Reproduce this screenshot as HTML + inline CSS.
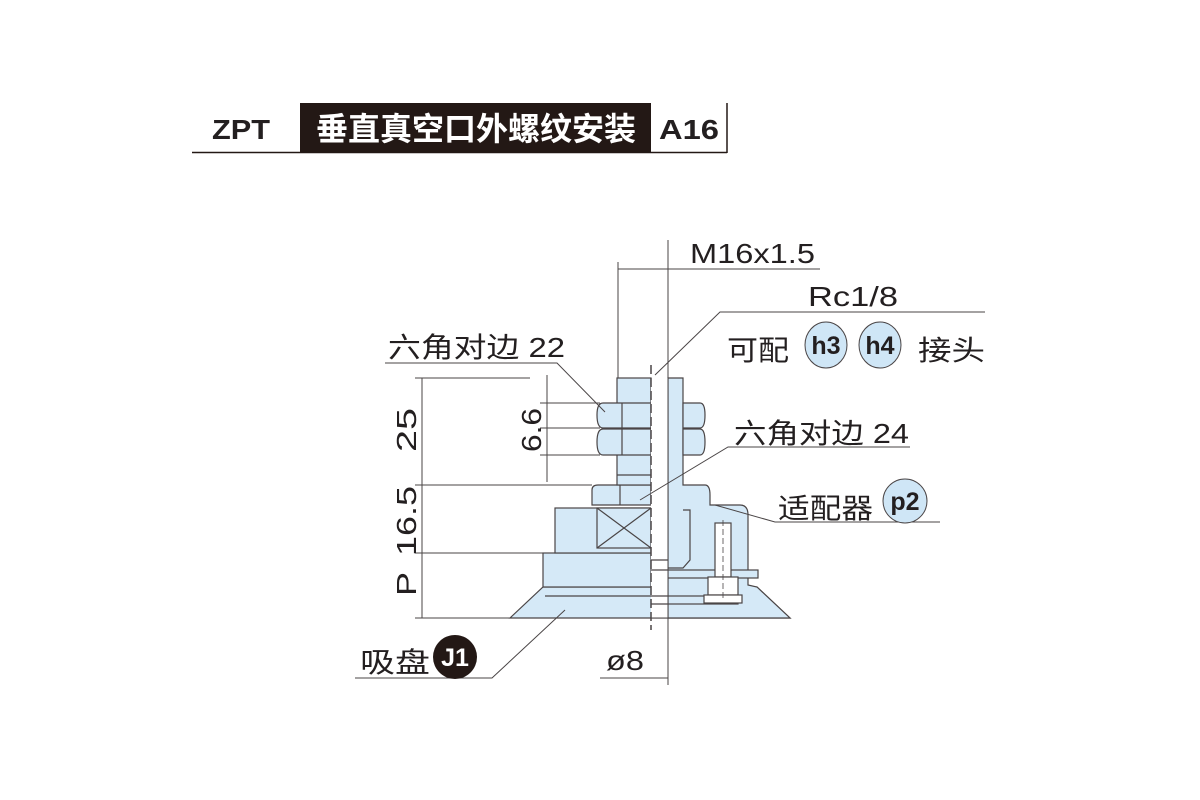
<!DOCTYPE html>
<html><head><meta charset="utf-8"><style>
html,body{margin:0;padding:0;background:#fff;width:1200px;height:800px;overflow:hidden}
svg{display:block}
text{font-family:"Liberation Sans","Noto Sans CJK SC",sans-serif;fill:#231f20}
</style></head><body>
<svg width="1200" height="800" viewBox="0 0 1200 800">
<!-- header -->
<rect x="300" y="103" width="351" height="49" fill="#231815"/>
<line x1="192" y1="152.5" x2="727" y2="152.5" stroke="#231815" stroke-width="1.5"/>
<line x1="727" y1="103" x2="727" y2="153" stroke="#231815" stroke-width="1.5"/>
<text x="212" y="139" font-size="28" font-weight="bold" textLength="58" lengthAdjust="spacingAndGlyphs">ZPT</text>
<text x="316" y="140" font-size="32" font-weight="bold" textLength="320" lengthAdjust="spacingAndGlyphs" style="fill:#fff">垂直真空口外螺纹安装</text>
<text x="659" y="139" font-size="28" font-weight="bold" textLength="60" lengthAdjust="spacingAndGlyphs">A16</text>

<g stroke="#4a4546" stroke-width="1.2" fill="#d5e9f7">
<polygon points="543,587 757,587 790,618 510,618"/>
<line x1="545" y1="596" x2="651" y2="596"/>
<rect x="543" y="553" width="108" height="34"/>
<rect x="555" y="508" width="96" height="45"/>
<rect x="597" y="508" width="54" height="40"/>
<line x1="597" y1="508" x2="651" y2="548"/><line x1="651" y1="508" x2="597" y2="548"/>
<path d="M592,505 L592,490 Q592,485 598,485 L651,485 L651,505 Z"/>
<line x1="620" y1="485" x2="620" y2="505"/>
<rect x="617" y="378" width="34" height="107"/>
<line x1="617" y1="475" x2="651" y2="475"/>
<path d="M651,403 L603,403 Q597,403 597,415 Q597,428 603,428 L651,428 Z"/>
<path d="M651,429 L603,429 Q597,429 597,442 Q597,455 603,455 L651,455 Z"/>
<line x1="622" y1="403" x2="622" y2="455"/>
<path d="M668,378 L683,378 L683,485 L705,485 Q710,485 710,495 L710,505 L740,505 Q748,505 748,515 L748,585 L757,587 L790,618 L668,618 Z"/>
<path d="M683,403 L700,403 Q705,403 705,415 Q705,428 700,428 L683,428 Z"/>
<path d="M683,429 L700,429 Q705,429 705,442 Q705,455 700,455 L683,455 Z"/>
<path d="M683,510 L690,510 L690,560 L683,568 L668,568" fill="none"/>
<rect x="668" y="570" width="90" height="8"/>
<rect x="668" y="596" width="70" height="8"/>
<rect x="715" y="523" width="16" height="54" fill="#fff"/>
<rect x="708" y="577" width="30" height="18" fill="#fff"/>
<rect x="704" y="595" width="38" height="8" fill="#fff"/>
<rect x="651" y="378" width="17" height="240" fill="#fff" stroke="none"/>
<line x1="651" y1="560" x2="668" y2="560"/><line x1="651" y1="570" x2="668" y2="570"/>
<line x1="651" y1="596" x2="668" y2="596"/><line x1="651" y1="604" x2="668" y2="604"/>
</g>
<line x1="651" y1="365" x2="651" y2="630" stroke="#4a4546" stroke-width="1.5" stroke-dasharray="9,4"/>
<line x1="723" y1="520" x2="723" y2="600" stroke="#4a4546" stroke-width="0.8" stroke-dasharray="6,3"/>

<g stroke="#4a4546" stroke-width="1" fill="none">
<line x1="422" y1="378" x2="422" y2="618"/>
<line x1="415" y1="378" x2="530" y2="378"/>
<line x1="415" y1="485" x2="592" y2="485"/>
<line x1="415" y1="553" x2="543" y2="553"/>
<line x1="415" y1="618" x2="790" y2="618"/>
<line x1="547" y1="375" x2="547" y2="482"/>
<line x1="540" y1="403" x2="600" y2="403"/>
<line x1="540" y1="428" x2="600" y2="428"/>
<line x1="540" y1="455" x2="600" y2="455"/>
<line x1="618" y1="262" x2="618" y2="378"/>
<line x1="668" y1="240" x2="668" y2="685"/>
<line x1="618" y1="269" x2="820" y2="269"/>
<polyline points="385,363 557,363 605,412"/>
<polyline points="985,312 720,312 655,375"/>
<polyline points="910,447 728,447 640,500"/>
<polyline points="940,522 775,522 715,505"/>
<polyline points="355,678 492,678 565,610"/>
<line x1="600" y1="678" x2="668" y2="678"/>
</g>

<g font-size="28" lengthAdjust="spacingAndGlyphs">
<text x="388" y="357" textLength="177" lengthAdjust="spacingAndGlyphs">六角对边 22</text>
<text x="690" y="263" textLength="125" lengthAdjust="spacingAndGlyphs">M16x1.5</text>
<text x="808" y="306" textLength="90" lengthAdjust="spacingAndGlyphs">Rc1/8</text>
<text x="727" y="360" textLength="62" lengthAdjust="spacingAndGlyphs">可配</text>
<text x="918" y="360" textLength="67" lengthAdjust="spacingAndGlyphs">接头</text>
<text x="734" y="443" textLength="175" lengthAdjust="spacingAndGlyphs">六角对边 24</text>
<text x="778" y="518" textLength="95" lengthAdjust="spacingAndGlyphs">适配器</text>
<text x="360" y="672" textLength="70" lengthAdjust="spacingAndGlyphs">吸盘</text>
<text x="606" y="670" textLength="38" lengthAdjust="spacingAndGlyphs">ø8</text>
<text transform="translate(416,452) rotate(-90)" textLength="44" lengthAdjust="spacingAndGlyphs">25</text>
<text transform="translate(416,556) rotate(-90)" textLength="70" lengthAdjust="spacingAndGlyphs">16.5</text>
<text transform="translate(416,596) rotate(-90)" textLength="24" lengthAdjust="spacingAndGlyphs">P</text>
<text transform="translate(541,452) rotate(-90)" textLength="44" lengthAdjust="spacingAndGlyphs">6.6</text>
</g>
<g stroke="#4a4546" stroke-width="1" fill="#cfe6f6">
<ellipse cx="826" cy="345" rx="21" ry="23"/>
<ellipse cx="880" cy="345" rx="21" ry="23"/>
<ellipse cx="905" cy="501" rx="22" ry="22"/>
</g>
<circle cx="455" cy="657" r="22" fill="#231815"/>
<g font-size="25" font-weight="bold">
<text x="826" y="354" text-anchor="middle">h3</text>
<text x="880" y="354" text-anchor="middle">h4</text>
<text x="905" y="510" text-anchor="middle">p2</text>
<text x="455" y="666" text-anchor="middle" style="fill:#fff">J1</text>
</g>
</svg>
</body></html>
